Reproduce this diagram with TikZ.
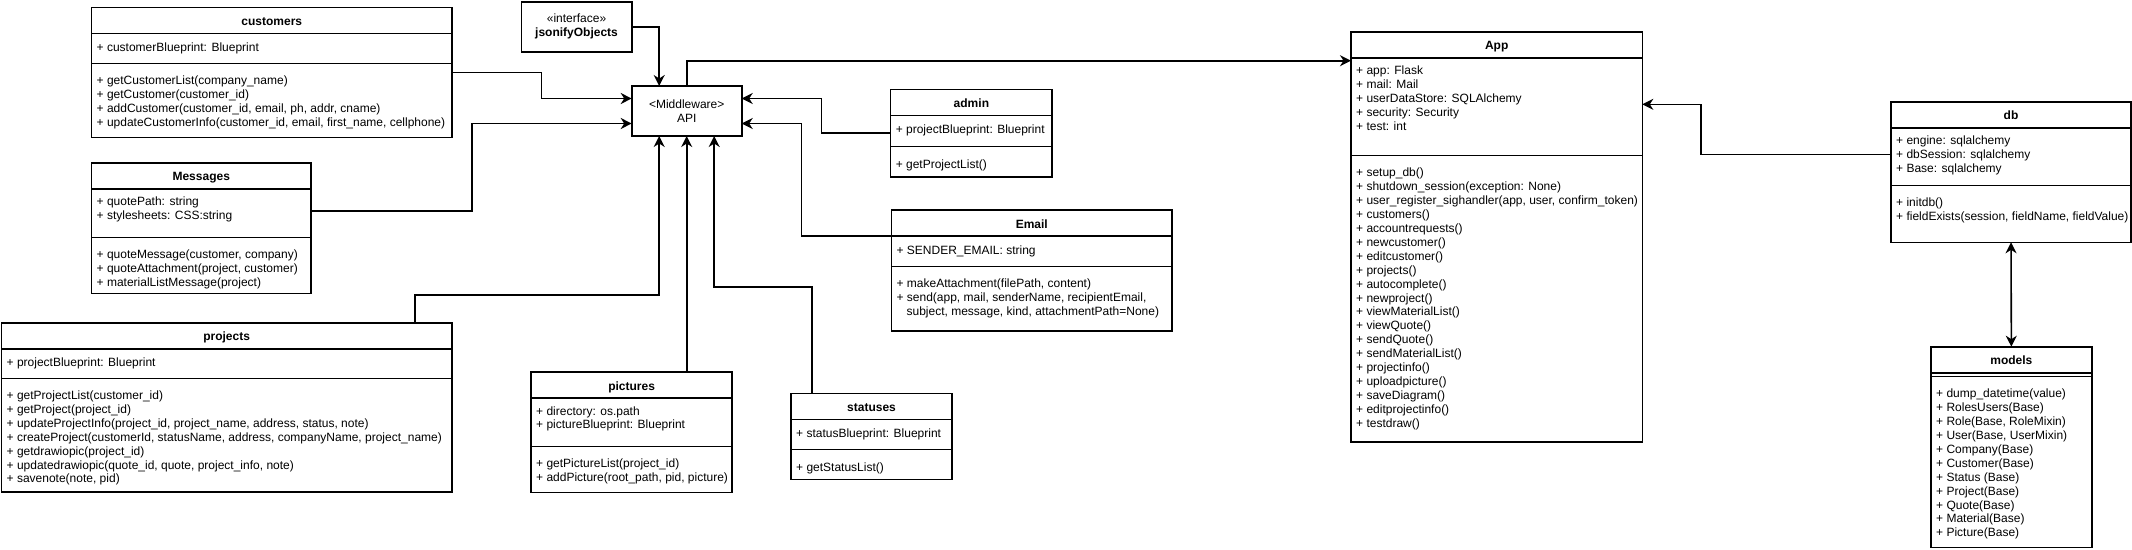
\documentclass[tikz,border=0pt]{standalone}
\usepackage{fontspec}
\setmainfont{Liberation Sans}
\usetikzlibrary{arrows.meta,calc}

\tikzset{
  umlbox/.style={draw, line width=1.6pt, inner sep=0pt, outer sep=0pt, anchor=north west},
  umlname/.style={anchor=base, inner sep=0pt, font=\fontsize{12}{13.9}\selectfont\bfseries},
  members/.style={anchor=north west, inner sep=0pt, align=left, execute at begin node=\strut},
  sepline/.style={line width=1.6pt},
  thinline/.style={line width=0.8pt},
  assoc/.style={line width=1.6pt, -{Stealth[length=11pt,width=11pt,inset=3.5pt]}},
}

\begin{document}
\begin{tikzpicture}[x=1pt,y=-1pt,font=\fontsize{12}{13.9}\selectfont]
\useasboundingbox (0,0) rectangle (2132,549);

% customers
\begin{scope}[shift={(91.5,7.3)}]
\node[umlbox, minimum width=360.5pt, minimum height=130pt] (customers) at (0,0) {};
\draw[sepline] (0,26) -- (360.5,26);
\draw[thinline] (0,56) -- (360.5,56);
\node[umlname] (customers-name) at (180.25,18) {customers};
\node[members] (customers-attr) at (5,34.1) {+ customerBlueprint: Blueprint};
\node[members] (customers-ops) at (5,68.3) {+ getCustomerList(company\_name)\\
+ getCustomer(customer\_id)\\
+ addCustomer(customer\_id, email, ph, addr, cname)\\
+ updateCustomerInfo(customer\_id, email, first\_name, cellphone)};
\end{scope}

% Messages
\begin{scope}[shift={(91.5,162.7)}]
\node[umlbox, minimum width=219.5pt, minimum height=130.6pt] (messages) at (0,0) {};
\draw[sepline] (0,26) -- (219.5,26);
\draw[thinline] (0,75) -- (219.5,75);
\node[umlname] (messages-name) at (109.75,18) {Messages};
\node[members] (messages-attr) at (5,34.1) {+ quotePath: string\\
+ stylesheets: CSS:string};
\node[members] (messages-ops) at (5,87.3) {+ quoteMessage(customer, company)\\
+ quoteAttachment(project, customer)\\
+ materialListMessage(project)};
\end{scope}

% projects
\begin{scope}[shift={(1.5,322.7)}]
\node[umlbox, minimum width=450.3pt, minimum height=169pt] (projects) at (0,0) {};
\draw[sepline] (0,26) -- (450.3,26);
\draw[thinline] (0,55.6) -- (450.3,55.6);
\node[umlname] (projects-name) at (225.15,18) {projects};
\node[members] (projects-attr) at (5,34.1) {+ projectBlueprint: Blueprint};
\node[members] (projects-ops) at (5,67.9) {+ getProjectList(customer\_id)\\
+ getProject(project\_id)\\
+ updateProjectInfo(project\_id, project\_name, address, status, note)\\
+ createProject(customerId, statusName, address, companyName, project\_name)\\
+ getdrawiopic(project\_id)\\
+ updatedrawiopic(quote\_id, quote, project\_info, note)\\
+ savenote(note, pid)};
\end{scope}

% pictures
\begin{scope}[shift={(531,372)}]
\node[umlbox, minimum width=201.2pt, minimum height=120.5pt] (pictures) at (0,0) {};
\draw[sepline] (0,26) -- (201.2,26);
\draw[thinline] (0,74.7) -- (201.2,74.7);
\node[umlname] (pictures-name) at (100.6,18) {pictures};
\node[members] (pictures-attr) at (5,34.1) {+ directory: os.path\\
+ pictureBlueprint: Blueprint};
\node[members] (pictures-ops) at (5,87) {+ getPictureList(project\_id)\\
+ addPicture(root\_path, pid, picture)};
\end{scope}

% statuses
\begin{scope}[shift={(791,393.3)}]
\node[umlbox, minimum width=161pt, minimum height=86pt] (statuses) at (0,0) {};
\draw[sepline] (0,26) -- (161,26);
\draw[thinline] (0,56) -- (161,56);
\node[umlname] (statuses-name) at (80.5,18) {statuses};
\node[members] (statuses-attr) at (5,34.1) {+ statusBlueprint: Blueprint};
\node[members] (statuses-ops) at (5,68.3) {+ getStatusList()};
\end{scope}

% admin
\begin{scope}[shift={(890.6,89.3)}]
\node[umlbox, minimum width=161.6pt, minimum height=87.4pt] (admin) at (0,0) {};
\draw[sepline] (0,26) -- (161.6,26);
\draw[thinline] (0,56.7) -- (161.6,56.7);
\node[umlname] (admin-name) at (80.8,18) {admin};
\node[members] (admin-attr) at (5,34.1) {+ projectBlueprint: Blueprint};
\node[members] (admin-ops) at (5,69) {+ getProjectList()};
\end{scope}

% Email
\begin{scope}[shift={(891.4,210)}]
\node[umlbox, minimum width=280.8pt, minimum height=120.7pt] (email) at (0,0) {};
\draw[sepline] (0,26) -- (280.8,26);
\draw[thinline] (0,56) -- (280.8,56);
\node[umlname] (email-name) at (140.4,18) {Email};
\node[members] (email-attr) at (5,34.1) {+ SENDER\_EMAIL: string};
\node[members] (email-ops) at (5,68.3) {+ makeAttachment(filePath, content)\\
+ send(app, mail, senderName, recipientEmail,\\
\hspace*{10pt}subject, message, kind, attachmentPath=None)};
\end{scope}

% App
\begin{scope}[shift={(1351,31.7)}]
\node[umlbox, minimum width=291.3pt, minimum height=410pt] (app) at (0,0) {};
\draw[sepline] (0,26) -- (291.3,26);
\draw[thinline] (0,124) -- (291.3,124);
\node[umlname] (app-name) at (145.65,18) {App};
\node[members] (app-attr) at (5,34.1) {+ app: Flask\\
+ mail: Mail\\
+ userDataStore: SQLAlchemy\\
+ security: Security\\
+ test: int};
\node[members] (app-ops) at (5,136.3) {+ setup\_db()\\
+ shutdown\_session(exception: None)\\
+ user\_register\_sighandler(app, user, confirm\_token)\\
+ customers()\\
+ accountrequests()\\
+ newcustomer()\\
+ editcustomer()\\
+ projects()\\
+ autocomplete()\\
+ newproject()\\
+ viewMaterialList()\\
+ viewQuote()\\
+ sendQuote()\\
+ sendMaterialList()\\
+ projectinfo()\\
+ uploadpicture()\\
+ saveDiagram()\\
+ editprojectinfo()\\
+ testdraw()};
\end{scope}

% db
\begin{scope}[shift={(1891,101.7)}]
\node[umlbox, minimum width=240pt, minimum height=140.6pt] (db) at (0,0) {};
\draw[sepline] (0,26) -- (240,26);
\draw[thinline] (0,84) -- (240,84);
\node[umlname] (db-name) at (120,18) {db};
\node[members] (db-attr) at (5,34.1) {+ engine: sqlalchemy\\
+ dbSession: sqlalchemy\\
+ Base: sqlalchemy};
\node[members] (db-ops) at (5,96.3) {+ initdb()\\
+ fieldExists(session, fieldName, fieldValue)};
\end{scope}

% models
\begin{scope}[shift={(1931,346.7)}]
\node[umlbox, minimum width=160.7pt, minimum height=200.6pt] (models) at (0,0) {};
\draw[sepline] (0,26) -- (160.7,26);
\draw[thinline] (0,30) -- (160.7,30);
\node[umlname] (models-name) at (80.35,18) {models};
\node[members] (models-ops) at (5,42.2) {+ dump\_datetime(value)\\
+ RolesUsers(Base)\\
+ Role(Base, RoleMixin)\\
+ User(Base, UserMixin)\\
+ Company(Base)\\
+ Customer(Base)\\
+ Status (Base)\\
+ Project(Base)\\
+ Quote(Base)\\
+ Material(Base)\\
+ Picture(Base)};
\end{scope}

% jsonifyObjects and API
\node[umlbox, minimum width=110.3pt, minimum height=50pt, align=center] (jsonify) at (521.4,1.7)
  {«interface»\\\textbf{jsonifyObjects}};
\node[umlbox, minimum width=110pt, minimum height=50pt, align=center] (api) at (631.7,86)
  {<Middleware>\\API};

\coordinate (api-n1) at ($(api.north west)!0.25!(api.north east)$);
\coordinate (api-s1) at ($(api.south west)!0.25!(api.south east)$);
\coordinate (api-s3) at ($(api.south west)!0.75!(api.south east)$);
\coordinate (api-w1) at ($(api.north west)!0.25!(api.south west)$);
\coordinate (api-w3) at ($(api.north west)!0.75!(api.south west)$);
\coordinate (api-e1) at ($(api.north east)!0.25!(api.south east)$);
\coordinate (api-e3) at ($(api.north east)!0.75!(api.south east)$);

% connectors
\draw[assoc] (customers.east) -- ++(89.5,0) |- (api-w1);
\draw[assoc] ($(messages.north east)+(0,48.3)$) -- ++(161,0) |- (api-w3);
\draw[assoc] (jsonify.east) -| (api-n1);
\draw[assoc] (api.north) |- ($(app.north west)+(0,29)$);
\draw[assoc] (admin.west) -- ++(-69.2,0) |- (api-e1);
\draw[assoc] ($(email.north west)+(0,26)$) -- ++(-90,0) |- (api-e3);
\draw[assoc] ($(projects.north west)+(413.5,0)$) -- ++(0,-27.6) -| (api-s1);
\draw[assoc] (api.south |- pictures.north) -- (api.south);
\draw[assoc] ($(statuses.north west)+(21,0)$) -- ++(0,-106.6) -| (api-s3);
\draw[assoc] ($(db.north west)+(0,52.6)$) -- ++(-190,0) |- ($(app.north east)+(0,72.6)$);
\draw[assoc, {Stealth[length=11pt,width=11pt,inset=3.5pt]}-{Stealth[length=11pt,width=11pt,inset=3.5pt]}] (db.south) -- (models.north);
\end{tikzpicture}
\end{document}
